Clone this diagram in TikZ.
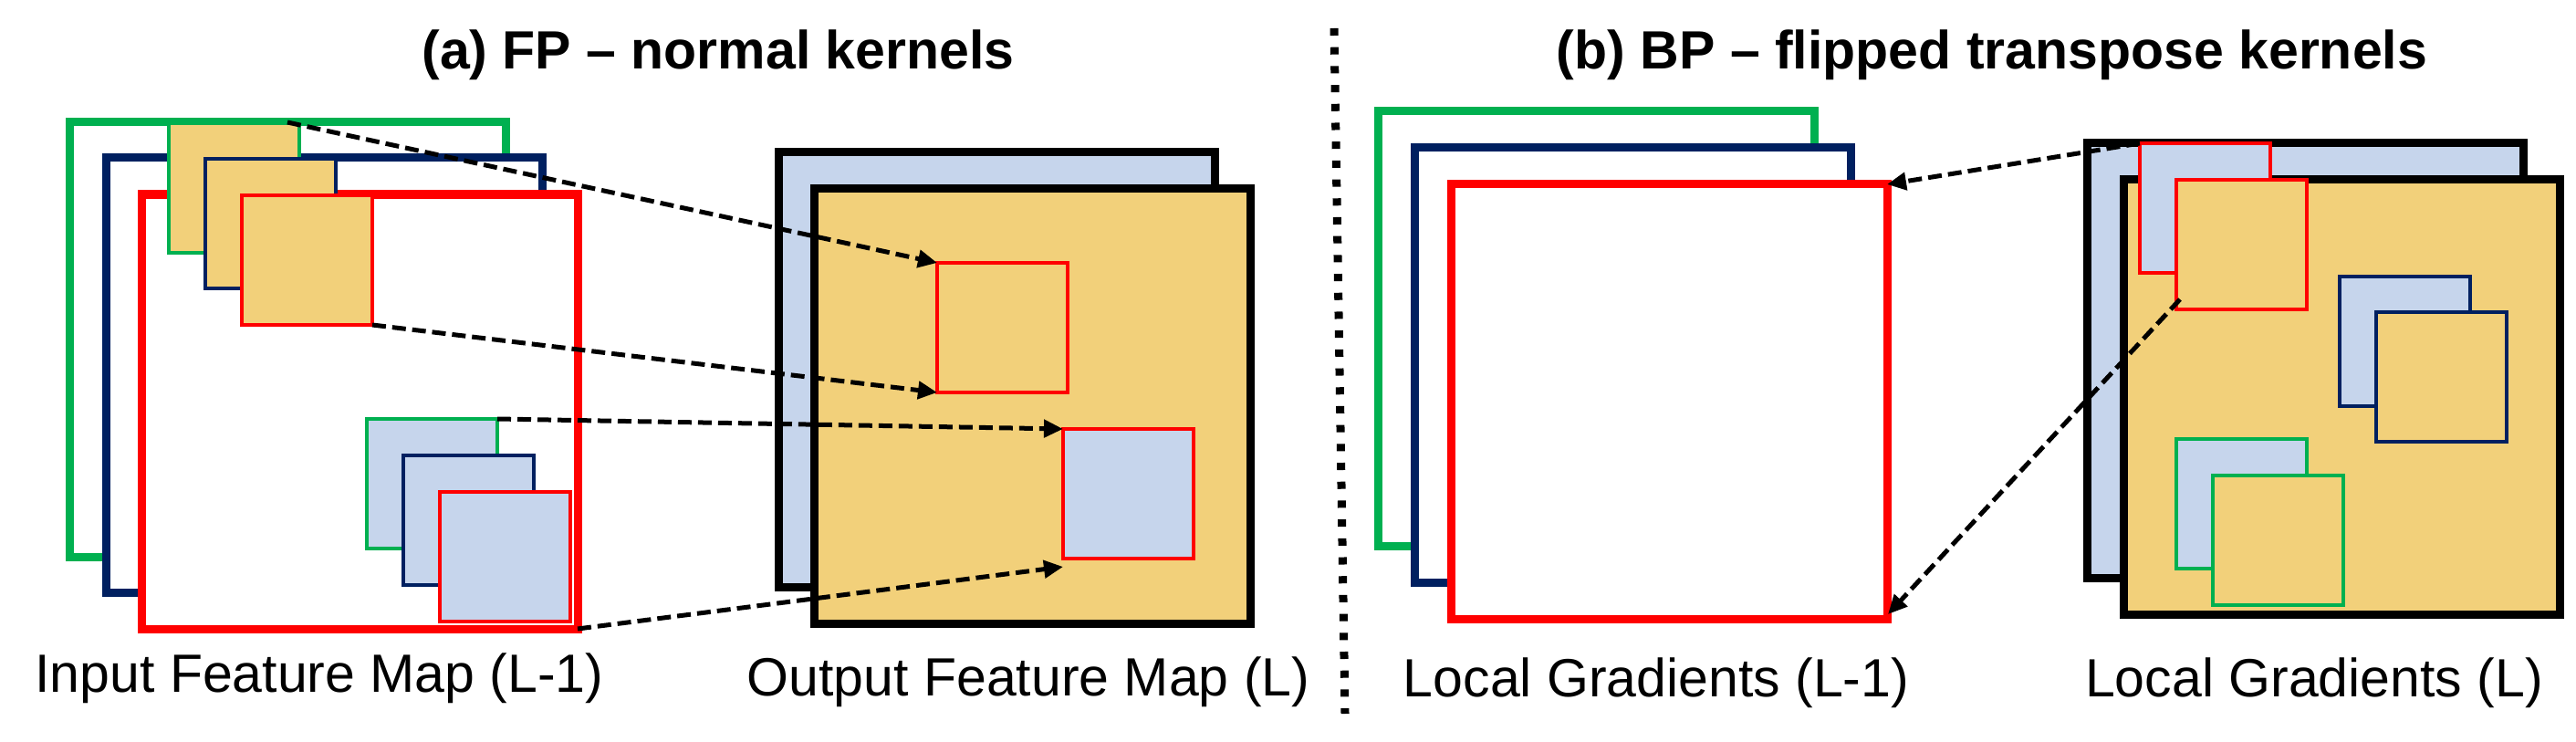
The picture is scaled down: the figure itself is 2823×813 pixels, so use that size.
\documentclass[tikz,border=0pt]{standalone}
\usepackage{fontspec}
\setmainfont{Liberation Sans}
\usetikzlibrary{arrows.meta}
\definecolor{mgreen}{HTML}{00B050}
\definecolor{mnavy}{HTML}{002060}
\definecolor{mred}{HTML}{FF0000}
\definecolor{morange}{HTML}{F2D07A}
\definecolor{mblue}{HTML}{C6D5EC}

\begin{document}
\begin{tikzpicture}[x=1pt,y=-1pt,
  map/.style={draw,fill=white,line width=9pt,minimum width=478pt,minimum height=476pt,inner sep=0pt,outer sep=0pt,anchor=north west},
  kern/.style={draw,line width=4.5pt,minimum width=143pt,minimum height=142pt,inner sep=0pt,outer sep=0pt,anchor=north west},
  lbl/.style={font=\fontsize{59}{70}\selectfont,anchor=base},
  ttl/.style={font=\fontsize{59}{70}\selectfont\bfseries,anchor=base},
  >={Triangle[length=21pt,width=19pt]},
  link/.style={->,line width=5pt,dash pattern=on 15pt off 7pt}]
  \useasboundingbox (0,0) rectangle (2823,813);
  % (a) forward pass
  \node[ttl] (TA) at (787,76) {(a) FP -- normal kernels};
  \node[map,draw=mgreen] (IG) at (76,134) {};
  \node[map,draw=mnavy] (IN) at (116,173) {};
  \node[map,draw=mred] (IR) at (155,213) {};
  \node[kern,draw=mgreen,fill=morange] (KG) at (185,135) {};
  \node[kern,draw=mnavy,fill=morange] (KN) at (225,174) {};
  \node[kern,draw=mred,fill=morange] (KR) at (265,214) {};
  \node[kern,draw=mgreen,fill=mblue] (JG) at (402,459) {};
  \node[kern,draw=mnavy,fill=mblue] (JN) at (442,499) {};
  \node[kern,draw=mred,fill=mblue] (JR) at (482,539) {};
  \node[lbl] (LI) at (350,758) {Input Feature Map (L-1)};
  \node[map,draw=black,fill=mblue] (OB) at (853,167) {};
  \node[map,draw=black,fill=morange] (OF) at (892,207) {};
  \node[kern,draw=mred,fill=morange] (O1) at (1027,288) {};
  \node[kern,draw=mred,fill=mblue] (O2) at (1165,470) {};
  \node[lbl] (LO) at (1127,762) {Output Feature Map (L)};
  \coordinate (s1) at (315,134);
  \coordinate (t4) at (1165,621);
  \draw[link] (s1) -- (O1.north west);
  \draw[link] (KR.south east) -- (O1.south west);
  \draw[link] (JG.north east) -- (O2.north west);
  \draw[link] (IR.south east) -- (t4);
  % separator
  \draw[line width=9pt,dash pattern=on 8pt off 12.7pt] (1462,31) -- (1474,782);
  % (b) backward pass
  \node[ttl] (TB) at (2183,76) {(b) BP -- flipped transpose kernels};
  \node[map,draw=mgreen] (GG) at (1510,122) {};
  \node[map,draw=mnavy] (GN) at (1550,162) {};
  \node[map,draw=mred] (GR) at (1590,202) {};
  \node[lbl] (LG1) at (1815,763) {Local Gradients (L-1)};
  \node[map,draw=black,fill=mblue] (HB) at (2287,157) {};
  \node[map,draw=black,fill=morange] (HF) at (2327,197) {};
  \node[kern,draw=mred,fill=mblue] (HR1) at (2345,157) {};
  \node[kern,draw=mred,fill=morange] (HR2) at (2385,197) {};
  \node[kern,draw=mnavy,fill=mblue] (HN1) at (2564,303) {};
  \node[kern,draw=mnavy,fill=morange] (HN2) at (2604,342) {};
  \node[kern,draw=mgreen,fill=mblue] (HG1) at (2385,481) {};
  \node[kern,draw=mgreen,fill=morange] (HG2) at (2425,521) {};
  \node[lbl] (LG2) at (2536,763) {Local Gradients (L)};
  \coordinate (s6) at (2389,328);
  \coordinate (t6) at (2069,673);
  \draw[link] (HR1.north west) -- (GR.north east);
  \draw[link] (s6) -- (t6);
\end{tikzpicture}
\end{document}
